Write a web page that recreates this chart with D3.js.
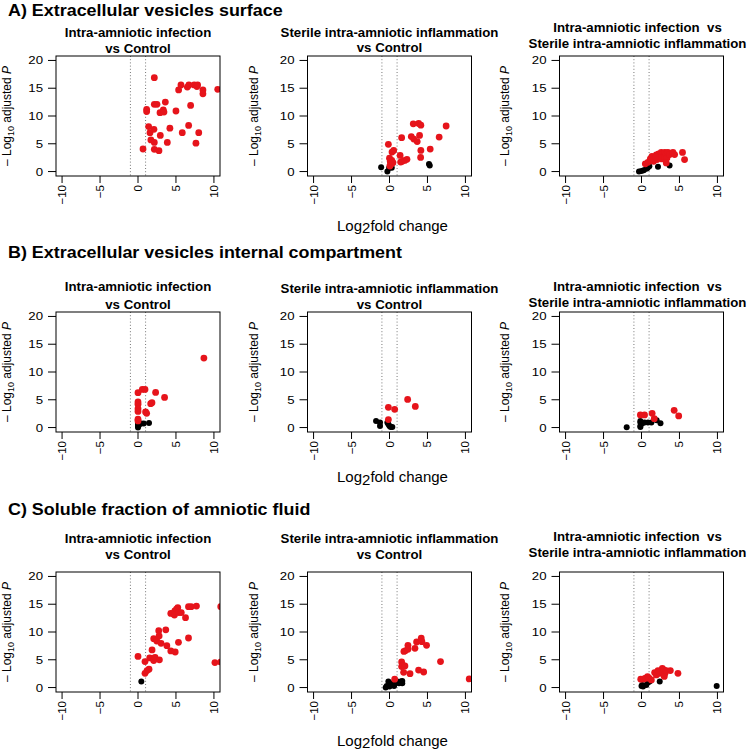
<!DOCTYPE html>
<html><head><meta charset="utf-8">
<script src="https://cdn.jsdelivr.net/npm/d3@7"></script>
<style>body{margin:0;background:#fff} svg{display:block}</style>
</head><body>
<svg id="c" width="750" height="750"></svg>
<script>
// ---------- data ----------
const sectionTitles = ["A) Extracellular vesicles surface", "B) Extracellular vesicles internal compartment", "C) Soluble fraction of amniotic fluid"];
const panelTitles = [["Intra-amniotic infection", "vs Control"], ["Sterile intra-amniotic inflammation", "vs Control"], ["Intra-amniotic infection  vs", "Sterile intra-amniotic inflammation"]];
const xTicks = [-10, -5, 0, 5, 10];
const yTicks = [0, 5, 10, 15, 20];
const xDomain = [-10.8, 10.8];
const yDomain = [-0.8, 20.8];
const foldCutoffs = [-1, 1];

// [log2 fold change, -log10 adjusted P]; sig = red, ns = black
const a1Sig = [[0.66,4.06],[2.15,16.9],[1.14,11.2],[1.14,10.8],[1.4,8.1],[1.58,7.0],[2.1,7.6],[1.7,5.7],[2.15,5.25],[2.15,4.0],[2.76,3.76],[2.94,6.5],[2.15,12.1],[2.5,12.1],[2.9,10.6],[3.33,11.1],[3.42,10.7],[3.6,12.5],[3.86,5.25],[4.2,7.8],[5.0,10.9],[5.35,14.7],[5.66,15.6],[5.83,7.0],[6.5,15.2],[6.7,15.6],[6.67,8.3],[6.93,11.9],[7.4,15.6],[7.76,15.3],[7.85,15.6],[7.63,5.1],[8.0,7.0],[8.55,14.7],[8.55,14.0],[10.5,14.8]];
const a1Ns = [];
const a2Sig = [[-0.15,4.9],[0.0,2.4],[0.1,1.8],[0.2,1.3],[0.3,2.0],[0.05,1.0],[0.45,1.6],[0.33,3.5],[0.55,3.8],[1.4,2.9],[1.47,1.7],[1.6,6.1],[1.68,1.85],[2.0,2.0],[2.3,2.2],[2.87,6.3],[3.13,8.6],[3.2,5.85],[3.65,5.4],[3.84,8.65],[3.96,6.5],[4.13,8.35],[4.13,3.8],[4.1,2.55],[5.36,4.05],[6.54,6.2],[7.46,8.2]];
const a2Ns = [[-1.1,0.78],[-0.28,0.0],[-0.05,0.65],[0.15,0.95],[0.3,0.7],[5.2,1.37],[5.3,1.07]];
const a3Sig = [[0.5,1.4],[0.85,1.67],[1.16,2.27],[1.38,2.75],[1.6,1.85],[1.73,2.45],[1.95,3.0],[2.04,2.15],[2.25,3.2],[2.4,2.75],[2.6,3.45],[2.7,2.27],[2.82,3.2],[2.95,2.75],[3.08,3.45],[3.26,3.2],[3.35,2.45],[3.26,1.55],[3.48,3.45],[3.7,3.05],[4.14,3.45],[4.36,3.05],[5.4,3.45],[5.67,2.15],[1.3,2.0],[2.2,2.5],[1.85,2.6]];
const a3Ns = [[-0.33,0],[0,0.1],[0.3,0.25],[0.63,0.5],[0.8,0.65],[1.03,0.95],[2.17,0.85],[3.7,1.07]];
const b1Sig = [[8.68,12.5],[0,6.27],[0.57,6.87],[0.92,6.87],[2.32,6.33],[3.5,5.43],[0,4.6],[0,4.2],[0,3.4],[0,2.9],[1.67,4.3],[1.84,4.48],[1.0,2.8],[1.14,2.57],[0,1.5],[0,1.2]];
const b1Ns = [[0,0.9],[0,0.3],[0,0],[0.4,0.72],[0.75,0.72],[1.45,0.84],[0.13,0.48],[0,0.6]];
const b2Sig = [[-0.15,3.64],[-0.15,1.43],[0.68,3.28],[2.39,5.07],[3.4,3.8]];
const b2Ns = [[-1.77,1.2],[-1.25,0.9],[-1.25,0.3],[-0.28,0.9],[-0.15,0.6],[0,0.3],[0.15,0.12],[0.37,0.12]];
const b3Sig = [[-0.15,2.27],[0.4,2.27],[1.4,2.57],[1.68,1.6],[4.3,3.1],[4.9,2.1]];
const b3Ns = [[-1.95,0.06],[-0.15,0.3],[-0.15,0.9],[-0.15,1.2],[0.1,0.78],[0.4,0.9],[0.85,0.9],[1.3,0.9],[2.0,1.3],[2.5,0.78],[-0.15,0.1]];
const c1Sig = [[0,5.6],[0.92,4.67],[0.92,2.57],[1.19,3.05],[1.45,3.3],[1.54,5.33],[1.85,6.77],[1.94,5.27],[2.07,4.85],[2.25,5.45],[2.07,8.8],[2.47,8.38],[2.73,10.24],[2.78,9.28],[2.82,5.0],[3.04,7.96],[3.66,10.4],[3.8,7.54],[4.32,6.6],[4.9,6.4],[4.32,13.35],[4.63,13.35],[4.85,13.8],[5.07,14.1],[5.24,14.4],[4.8,13.05],[5.37,13.5],[5.7,13.5],[5.33,8.14],[6.26,12.57],[6.65,14.55],[7.0,14.55],[6.65,8.92],[7.7,14.67],[10.13,4.49],[10.9,14.55],[10.9,4.6]];
const c1Ns = [[0.44,1.08]];
const c2Sig = [[0.68,1.5],[1.6,4.6],[1.6,3.77],[1.77,4.0],[2.03,3.9],[1.86,2.75],[1.9,6.5],[2.12,6.65],[2.43,7.6],[2.43,6.9],[2.7,2.5],[3.35,7.07],[3.57,8.2],[3.83,3.14],[4.18,8.9],[4.27,8.26],[4.5,2.8],[4.88,7.6],[6.72,4.67],[10.5,1.55]];
const c2Ns = [[-0.5,0],[-0.37,0.3],[-0.15,1.08],[0.15,0.48],[0.37,0.78],[0.68,0.6],[1.03,1.08],[1.25,0.78],[1.47,1.08],[1.68,0.78],[1.68,1.2],[0,0.18],[0.6,0.3]];
const c3Sig = [[-0.1,1.5],[0.3,1.56],[0.55,1.68],[0.8,1.98],[1.0,1.68],[1.3,1.38],[1.73,2.7],[1.95,2.27],[2.17,3.05],[2.4,2.57],[2.6,3.05],[2.74,3.47],[2.8,2.7],[2.95,3.17],[3.1,2.57],[3.0,2.0],[3.26,3.05],[3.8,3.05],[4.8,2.57]];
const c3Ns = [[0,0.3],[0.1,0.48],[0.63,0.48],[0.85,0.9],[1.07,1.08],[2.4,1.08],[9.9,0.3],[0.2,0.18]];

const panelData = [
  [[a1Sig, a1Ns], [a2Sig, a2Ns], [a3Sig, a3Ns]],
  [[b1Sig, b1Ns], [b2Sig, b2Ns], [b3Sig, b3Ns]],
  [[c1Sig, c1Ns], [c2Sig, c2Ns], [c3Sig, c3Ns]]
];

// ---------- layout ----------
const FONT = "'Liberation Sans', Arial, Helvetica, sans-serif";
const RED = "#e6141b";
const colLeft = [56, 307.5, 559.5], boxW = 164;
const rowTop = [56, 312, 572], boxH = 120;
const sectionBase = [15.5, 258, 515];
const titleBase = [[[37.3,52.7],[36.7,52.3],[31.7,47.7]], [[290.7,308.7],[292.7,308.7],[290.7,307]], [[543.3,559],[542.7,559],[541,556.7]]];
const titleShift = [0, 0, -4];
const xLabBase = [230.5, 482, 745.5];
const yLabOff = [45, 49.5, 50.5];

const svg = d3.select("#c");
svg.append("rect").attr("width", 750).attr("height", 750).attr("fill", "#fff");

function txt(g, x, y, s, o) {
  return g.append("text")
    .attr("transform", `translate(${x},${y}) rotate(${o.rot || 0}) scale(${o.sx || 1},1)`)
    .attr("text-anchor", o.anchor || "start")
    .style("font-family", FONT)
    .style("font-size", o.size + "px")
    .style("font-weight", o.bold ? "bold" : "normal")
    .style("white-space", "pre")
    .attr("fill", "#000")
    .text(s);
}

sectionTitles.forEach((s, r) => txt(svg, 8, sectionBase[r], s, {size: 16, bold: true, sx: 1.12}));

panelData.forEach((row, r) => {
  row.forEach((pd, c) => {
    const L = colLeft[c], T = rowTop[r];
    const x = d3.scaleLinear().domain(xDomain).range([L, L + boxW]);
    const y = d3.scaleLinear().domain(yDomain).range([T + boxH, T]);
    const g = svg.append("g");
    const cid = `clip${r}${c}`;
    svg.append("clipPath").attr("id", cid).append("rect")
      .attr("x", L).attr("y", T).attr("width", boxW).attr("height", boxH);

    // titles
    const cx = L + boxW / 2;
    panelTitles[c].forEach((line, i) => txt(g, cx + titleShift[c], titleBase[r][c][i], line, {size: 12.5, bold: true, anchor: "middle", sx: 1.06}));

    // dotted cutoff lines
    g.selectAll("line.cut").data(foldCutoffs).join("line")
      .attr("x1", d => x(d)).attr("x2", d => x(d))
      .attr("y1", T).attr("y2", T + boxH)
      .attr("stroke", "#777").attr("stroke-width", 1).attr("stroke-dasharray", "1,2.2");

    // points
    const pg = g.append("g").attr("clip-path", `url(#${cid})`);
    pg.selectAll("circle.ns").data(pd[1]).join("circle")
      .attr("cx", d => x(d[0])).attr("cy", d => y(d[1])).attr("r", 3).attr("fill", "#000");
    pg.selectAll("circle.sig").data(pd[0]).join("circle")
      .attr("cx", d => x(d[0])).attr("cy", d => y(d[1])).attr("r", 3.4).attr("fill", RED);

    // box
    g.append("rect").attr("x", L).attr("y", T).attr("width", boxW).attr("height", boxH)
      .attr("fill", "none").attr("stroke", "#000").attr("stroke-width", 1);

    // y axis
    yTicks.forEach(t => {
      g.append("line").attr("x1", L - 8).attr("x2", L).attr("y1", y(t)).attr("y2", y(t)).attr("stroke", "#000");
      txt(g, L - 13, y(t) + 4, String(t), {size: 11.5, anchor: "end", sx: 1.15});
    });
    // x axis
    xTicks.forEach(t => {
      g.append("line").attr("x1", x(t)).attr("x2", x(t)).attr("y1", T + boxH).attr("y2", T + boxH + 7).attr("stroke", "#000");
      txt(g, x(t) + 4, T + boxH + 9, String(t).replace("-", "\u2212"), {size: 11.5, anchor: "end", rot: -90});
    });

    // y label
    const yl = g.append("text")
      .attr("transform", `translate(${L - yLabOff[c]},${T + boxH / 2}) rotate(-90)`)
      .attr("text-anchor", "middle")
      .style("font-family", FONT).style("font-size", "12px").attr("fill", "#000");
    yl.append("tspan").text("\u2013 Log");
    yl.append("tspan").attr("dy", 3).style("font-size", "9px").text("10");
    yl.append("tspan").attr("dy", -3).text(" adjusted ");
    yl.append("tspan").style("font-style", "italic").text("P");

    // x label under middle column
    if (c === 1) {
      const xl = g.append("text").attr("x", cx + 3).attr("y", xLabBase[r])
        .attr("text-anchor", "middle").style("font-family", FONT).style("font-size", "15px").attr("fill", "#000");
      xl.append("tspan").text("Log");
      xl.append("tspan").attr("dy", 2.5).text("2");
      xl.append("tspan").attr("dy", -2.5).text("fold change");
    }
  });
});
</script>
</body></html>
